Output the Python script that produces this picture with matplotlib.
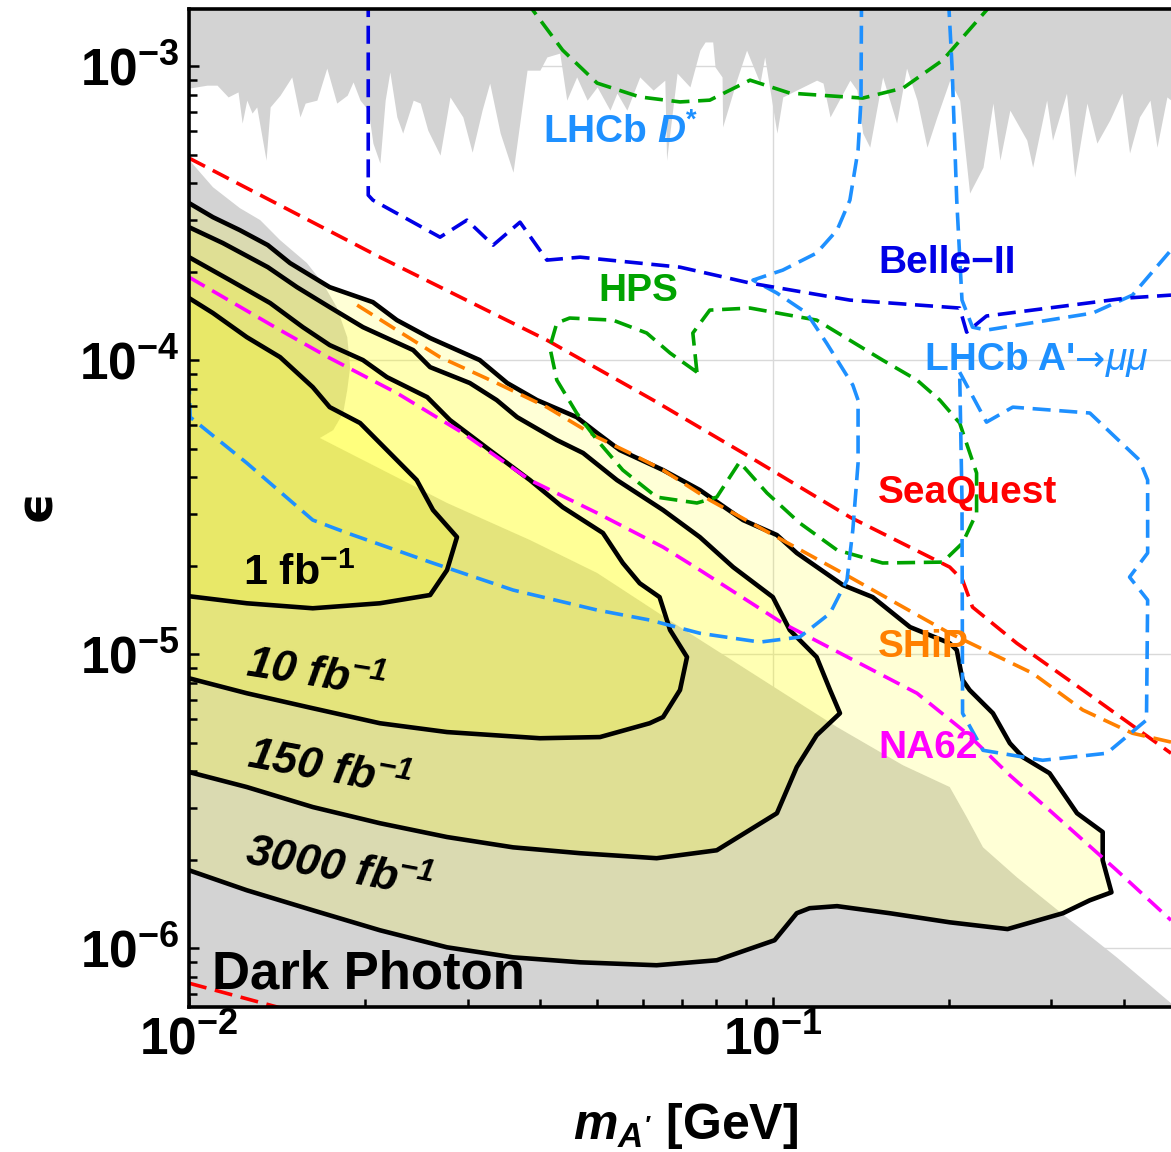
import numpy as np
import matplotlib
matplotlib.use("Agg")
import matplotlib.pyplot as plt
from matplotlib.ticker import FixedLocator, FixedFormatter, LogLocator, NullFormatter

plt.rcParams['font.family'] = ['Liberation Sans', 'DejaVu Sans']
plt.rcParams['font.weight'] = 'bold'
plt.rcParams['mathtext.fontset'] = 'custom'
plt.rcParams['mathtext.rm'] = 'Liberation Sans:bold'
plt.rcParams['mathtext.it'] = 'Liberation Sans:italic'
plt.rcParams['mathtext.bf'] = 'Liberation Sans:bold:italic'
plt.rcParams['mathtext.sf'] = 'Liberation Sans:bold'
plt.rcParams['mathtext.fallback'] = 'stixsans'

# ---------------- data (log10 of m_A' [GeV], log10 of epsilon) ----------------
# existing limits from above (jagged grey band at the top)
gray_top_lm = [-2.000, -1.969, -1.952, -1.933, -1.916, -1.909, -1.901, -1.892, -1.884, -1.868,
               -1.861, -1.844, -1.824, -1.810, -1.801, -1.781, -1.764, -1.747, -1.729, -1.719,
               -1.707, -1.693, -1.685, -1.673, -1.664, -1.656, -1.644, -1.634, -1.616, -1.604,
               -1.591, -1.570, -1.553, -1.531, -1.515, -1.498, -1.485, -1.467, -1.445, -1.421,
               -1.399, -1.387, -1.365, -1.353, -1.336, -1.318, -1.301, -1.279, -1.267, -1.250,
               -1.228, -1.205, -1.185, -1.182, -1.164, -1.142, -1.125, -1.116, -1.103, -1.099,
               -1.087, -1.086, -1.062, -1.045, -1.022, -1.014, -0.993, -0.983, -0.925, -0.914,
               -0.902, -0.868, -0.856, -0.846, -0.834, -0.812, -0.788, -0.771, -0.753, -0.736,
               -0.719, -0.697, -0.680, -0.663, -0.640, -0.623, -0.611, -0.594, -0.565, -0.555,
               -0.531, -0.521, -0.497, -0.483, -0.462, -0.445, -0.423, -0.402, -0.389, -0.372,
               -0.354, -0.342, -0.325, -0.318]
gray_top_le = [-3.075, -3.065, -3.065, -3.105, -3.088, -3.194, -3.116, -3.160, -3.139, -3.320,
               -3.139, -3.099, -3.037, -3.173, -3.126, -3.116, -3.007, -3.126, -3.099, -3.054,
               -3.116, -3.150, -3.262, -3.330, -3.116, -3.020, -3.173, -3.228, -3.116, -3.126,
               -3.218, -3.303, -3.105, -3.173, -3.293, -3.150, -3.058, -3.228, -3.361, -3.014,
               -3.014, -2.969, -2.956, -3.116, -3.037, -3.116, -3.071, -3.150, -3.092, -3.150,
               -3.037, -3.082, -3.048, -3.320, -3.024, -3.071, -2.946, -2.918, -2.918, -3.003,
               -3.037, -3.207, -3.048, -2.946, -3.058, -2.969, -3.228, -3.105, -3.048, -3.058,
               -3.173, -3.048, -3.082, -3.228, -3.276, -3.037, -3.194, -3.007, -3.116, -3.276,
               -3.173, -3.048, -3.116, -3.432, -3.344, -3.126, -3.320, -3.150, -3.252, -3.344,
               -3.116, -3.252, -3.092, -3.378, -3.126, -3.262, -3.184, -3.092, -3.296, -3.173,
               -3.116, -3.276, -3.105, -3.116]

# existing limits from below (grey region, "Dark Photon")
gray_bot_lm = [-2.000, -1.995, -1.959, -1.913, -1.878, -1.844, -1.798, -1.771, -1.747, -1.729,
               -1.724, -1.729, -1.736, -1.753, -1.776, -1.558, -1.416, -1.301, -1.159, -0.971,
               -0.890, -0.777, -0.697, -0.668, -0.640, -0.582, -0.497, -0.411, -0.318]
gray_bot_le = [-3.313, -3.330, -3.412, -3.483, -3.524, -3.592, -3.670, -3.738, -3.820, -3.922,
               -4.024, -4.102, -4.180, -4.238, -4.265, -4.486, -4.612, -4.724, -4.908, -5.146,
               -5.248, -5.378, -5.452, -5.554, -5.657, -5.759, -5.895, -6.031, -6.187]

# projected sensitivity contours
c3000_lm = [-2.000, -1.959, -1.913, -1.865, -1.827, -1.759, -1.685, -1.644, -1.587, -1.502,
            -1.455, -1.404, -1.336, -1.301, -1.262, -1.188, -1.125, -1.051, -0.993, -0.959,
            -0.880, -0.829, -0.765, -0.697, -0.685, -0.675, -0.663, -0.623, -0.594, -0.572,
            -0.526, -0.479, -0.435, -0.435, -0.420, -0.457, -0.503, -0.598, -0.697, -0.800,
            -0.890, -0.937, -0.959, -0.997, -1.096, -1.199, -1.330, -1.445, -1.558, -1.673,
            -1.788, -1.901, -2.000]
c3000_le = [-3.466, -3.514, -3.558, -3.609, -3.670, -3.752, -3.803, -3.864, -3.925, -4.000,
            -4.078, -4.136, -4.194, -4.248, -4.306, -4.374, -4.442, -4.544, -4.595, -4.656,
            -4.765, -4.806, -4.908, -4.963, -4.986, -5.088, -5.122, -5.201, -5.303, -5.350,
            -5.405, -5.541, -5.605, -5.701, -5.810, -5.837, -5.881, -5.935, -5.912, -5.881,
            -5.857, -5.864, -5.881, -5.973, -6.041, -6.058, -6.048, -6.031, -5.997, -5.939,
            -5.871, -5.803, -5.735]

c150_lm = [-2.000, -1.942, -1.865, -1.815, -1.759, -1.702, -1.616, -1.587, -1.519, -1.473,
           -1.438, -1.370, -1.325, -1.267, -1.188, -1.125, -1.068, -1.000, -0.971, -0.925,
           -0.902, -0.885, -0.925, -0.959, -0.993, -1.096, -1.199, -1.330, -1.445, -1.558,
           -1.673, -1.788, -1.901, -2.000]
c150_le = [-3.548, -3.602, -3.684, -3.752, -3.820, -3.888, -3.966, -4.024, -4.078, -4.136,
           -4.194, -4.272, -4.316, -4.408, -4.510, -4.602, -4.704, -4.806, -4.918, -5.010,
           -5.122, -5.201, -5.276, -5.384, -5.541, -5.667, -5.694, -5.677, -5.657, -5.622,
           -5.575, -5.520, -5.452, -5.401]

c10_lm = [-2.000, -1.930, -1.861, -1.805, -1.759, -1.702, -1.661, -1.592, -1.553, -1.485,
          -1.416, -1.360, -1.291, -1.257, -1.228, -1.194, -1.176, -1.147, -1.159, -1.188,
          -1.211, -1.296, -1.399, -1.558, -1.673, -1.788, -1.901, -2.000]
c10_le = [-3.650, -3.728, -3.806, -3.888, -3.949, -4.000, -4.058, -4.126, -4.204, -4.306,
          -4.408, -4.500, -4.588, -4.690, -4.759, -4.806, -4.918, -5.010, -5.122, -5.214,
          -5.235, -5.282, -5.286, -5.265, -5.235, -5.184, -5.133, -5.082]

c1_lm = [-2.000, -1.959, -1.901, -1.844, -1.788, -1.759, -1.707, -1.656, -1.610, -1.582,
         -1.541, -1.558, -1.587, -1.673, -1.788, -1.901, -2.000]
c1_le = [-3.789, -3.840, -3.922, -3.990, -4.092, -4.160, -4.214, -4.316, -4.408, -4.510,
         -4.602, -4.714, -4.799, -4.827, -4.844, -4.827, -4.803]

# dashed projections
seaquest_lm = [-2.000, -1.673, -1.387, -1.205, -1.039, -0.868, -0.697, -0.675, -0.658, -0.582,
               -0.469, -0.318]
seaquest_le = [-3.313, -3.650, -3.932, -4.136, -4.330, -4.534, -4.704, -4.748, -4.840, -4.963,
               -5.122, -5.337]
seaquest_low_lm = [-2.000, -1.810]
seaquest_low_le = [-6.119, -6.221]

ship_lm = [-1.712, -1.644, -1.570, -1.473, -1.387, -1.301, -1.245, -1.188, -1.108, -0.993,
           -0.868, -0.697, -0.555, -0.469, -0.384, -0.318]
ship_le = [-3.813, -3.898, -3.990, -4.078, -4.160, -4.262, -4.316, -4.374, -4.476, -4.602,
           -4.738, -4.929, -5.065, -5.190, -5.269, -5.299]

na62_lm = [-2.000, -1.844, -1.759, -1.644, -1.531, -1.416, -1.301, -1.188, -1.125, -0.983,
           -0.753, -0.668, -0.594, -0.526, -0.411, -0.318]
na62_le = [-3.718, -3.898, -3.993, -4.112, -4.248, -4.408, -4.520, -4.636, -4.714, -4.895,
           -5.133, -5.269, -5.412, -5.531, -5.735, -5.905]

belle_lm = [-1.693, -1.693, -1.685, -1.570, -1.524, -1.479, -1.433, -1.387, -1.330, -1.159,
            -1.039, -0.868, -0.680, -0.668, -0.634, -0.394, -0.318]
belle_le = [-2.741, -3.439, -3.456, -3.582, -3.524, -3.609, -3.531, -3.660, -3.650, -3.684,
            -3.738, -3.796, -3.823, -3.905, -3.850, -3.789, -3.779]

lhcb_dstar_lm = [-0.848, -0.849, -0.854, -0.868, -0.890, -0.925, -0.983, -1.034, -0.993, -0.942,
                 -0.908, -0.863, -0.854, -0.854, -0.863, -0.873, -0.902, -0.954, -1.022, -1.125,
                 -1.211, -1.301, -1.445, -1.587, -1.729, -1.788, -1.901, -1.998, -2.000]
lhcb_dstar_le = [-2.741, -3.116, -3.286, -3.456, -3.558, -3.636, -3.694, -3.728, -3.772, -3.840,
                 -3.942, -4.085, -4.136, -4.350, -4.578, -4.748, -4.861, -4.942, -4.959, -4.929,
                 -4.884, -4.850, -4.782, -4.687, -4.588, -4.544, -4.350, -4.194, -4.068]

lhcb_mumu_a_lm = [-0.700, -0.693, -0.685, -0.676, -0.658, -0.634, -0.452, -0.384, -0.318]
lhcb_mumu_a_le = [-2.741, -3.003, -3.456, -3.796, -3.888, -3.898, -3.840, -3.779, -3.626]

lhcb_mumu_b_lm = [-0.680, -0.634, -0.589, -0.457, -0.372, -0.358, -0.358, -0.389, -0.358, -0.360,
                  -0.428, -0.538, -0.640, -0.675, -0.676, -0.680]
lhcb_mumu_b_le = [-4.041, -4.211, -4.160, -4.180, -4.340, -4.408, -4.656, -4.738, -4.816, -5.224,
                  -5.337, -5.361, -5.327, -5.201, -4.476, -4.041]

hps_up_lm = [-1.425, -1.411, -1.360, -1.301, -1.228, -1.159, -1.108, -1.039, -0.971, -0.846,
             -0.777, -0.709, -0.634, -0.611]
hps_up_le = [-2.759, -2.810, -2.946, -3.058, -3.105, -3.122, -3.116, -3.048, -3.092, -3.109,
             -3.075, -2.980, -2.810, -2.759]

hps_low_lm = [-1.130, -1.137, -1.108, -1.039, -0.925, -0.812, -0.753, -0.714, -0.680, -0.651,
              -0.651, -0.675, -0.709, -0.812, -0.890, -0.954, -1.010, -1.057, -1.096, -1.130,
              -1.199, -1.257, -1.301, -1.336, -1.370, -1.382, -1.370, -1.348, -1.274, -1.216,
              -1.176, -1.130]
hps_low_le = [-4.041, -3.908, -3.830, -3.823, -3.864, -4.000, -4.068, -4.136, -4.214, -4.384,
              -4.520, -4.622, -4.687, -4.690, -4.646, -4.554, -4.452, -4.347, -4.466, -4.486,
              -4.466, -4.374, -4.272, -4.180, -4.068, -3.956, -3.874, -3.857, -3.864, -3.908,
              -3.976, -4.041]

x_ticks = [1e-2, 1e-1]
x_tick_labels = [r"$\mathrm{10^{-2}}$", r"$\mathrm{10^{-1}}$"]
y_ticks = [1e-6, 1e-5, 1e-4, 1e-3]
y_tick_labels = [r"$\mathrm{10^{-6}}$", r"$\mathrm{10^{-5}}$", r"$\mathrm{10^{-4}}$", r"$\mathrm{10^{-3}}$"]

lumi_labels = ["1 fb", "10 fb", "150 fb", "3000 fb"]

# ---------------- figure ----------------
W, H = 1171, 1152
fig = plt.figure(figsize=(W / 100, H / 100), dpi=100)
ax = fig.add_axes([189 / W, (H - 1007) / H, (W - 189) / W, (1007 - 9) / H])
ax.set_xscale('log')
ax.set_yscale('log')
XMIN, XMAX = 1e-2, 10 ** -0.318
YMIN, YMAX = 10 ** -6.2, 10 ** -2.806

GRAY = '#D3D3D3'
LBLUE = '#1E90FF'
DBLUE = '#0000E6'
GREEN = '#00A300'
RED = '#FF0000'
ORANGE = '#FF8000'
MAGENTA = '#FF00FF'
GRID = '#D9D9D9'


def p(lm, le):
    return 10 ** np.asarray(lm, float), 10 ** np.asarray(le, float)


# light grid under everything
for xv in x_ticks[1:]:
    ax.axvline(xv, color=GRID, lw=1.0, zorder=0.5)
for yv in y_ticks:
    ax.axhline(yv, color=GRID, lw=1.0, zorder=0.5)

# grey regions
x, y = p(gray_top_lm, gray_top_le)
ax.fill_between(x, y, 1e-2, color=GRAY, lw=0, zorder=1)
x, y = p(gray_bot_lm, gray_bot_le)
ax.fill(np.r_[x, XMAX, XMIN], np.r_[y, 1e-7, 1e-7], color=GRAY, lw=0, zorder=1)

# sensitivity contours
for lm, le in [(c3000_lm, c3000_le), (c150_lm, c150_le), (c10_lm, c10_le), (c1_lm, c1_le)]:
    x, y = p(lm, le)
    ax.fill(x, y, color=(1, 1, 0), alpha=0.16, lw=0, zorder=2)
    ax.plot(x, y, color='black', lw=3.3, zorder=3, solid_joinstyle='round')

dash = (0, (5.0, 2.4))
lines = [
    (seaquest_lm, seaquest_le, RED),
    (seaquest_low_lm, seaquest_low_le, RED),
    (ship_lm, ship_le, ORANGE),
    (na62_lm, na62_le, MAGENTA),
    (hps_up_lm, hps_up_le, GREEN),
    (hps_low_lm, hps_low_le, GREEN),
    (lhcb_dstar_lm, lhcb_dstar_le, LBLUE),
    (lhcb_mumu_a_lm, lhcb_mumu_a_le, LBLUE),
    (lhcb_mumu_b_lm, lhcb_mumu_b_le, LBLUE),
    (belle_lm, belle_le, DBLUE),
]
for lm, le, c in lines:
    x, y = p(lm, le)
    ax.plot(x, y, color=c, lw=2.6, ls=dash, zorder=4)

ax.set_xlim(XMIN, XMAX)
ax.set_ylim(YMIN, YMAX)

# axes styling (ticks drawn on top of the filled regions)
ax.set_axisbelow(False)
ax.xaxis.set_zorder(5)
ax.yaxis.set_zorder(5)
for s in ['left', 'bottom', 'top']:
    ax.spines[s].set_linewidth(2.6)
    ax.spines[s].set_zorder(6)
ax.spines['right'].set_visible(False)

ax.xaxis.set_major_locator(FixedLocator(x_ticks))
ax.xaxis.set_major_formatter(FixedFormatter(x_tick_labels))
ax.yaxis.set_major_locator(FixedLocator(y_ticks))
ax.yaxis.set_major_formatter(FixedFormatter(y_tick_labels))
ax.xaxis.set_minor_locator(LogLocator(base=10, subs=np.arange(2, 10)))
ax.yaxis.set_minor_locator(LogLocator(base=10, subs=np.arange(2, 10)))
ax.xaxis.set_minor_formatter(NullFormatter())
ax.yaxis.set_minor_formatter(NullFormatter())
ax.tick_params(which='both', direction='in', width=1.8, top=False, right=False)
ax.tick_params(which='major', length=7)
ax.tick_params(which='minor', length=6)
ax.tick_params(axis='y', which='major', labelsize=37, pad=7)
ax.tick_params(axis='x', which='major', labelsize=37, pad=6)

# axis labels
fig.text(686 / W, 1 - 1126 / H, r"$\mathbf{m_{A'}}$ [GeV]", ha='center', va='center',
         fontsize=36, fontweight='bold')
fig.text(36 / W, 1 - 505 / H, "\u03f5", ha='center', va='center', rotation=90,
         fontsize=36, fontweight='bold', family=['DejaVu Sans'])

tk = dict(transform=ax.transAxes, fontweight='bold', zorder=7)
ax.text(0.3605, 0.877, r"LHCb $\mathbf{D}^{*}$", color=LBLUE, fontsize=28, ha='left', va='center', **tk)
ax.text(0.7016, 0.7455, "Belle\u2212II", color=DBLUE, fontsize=28, ha='left', va='center', **tk)
ax.text(0.4165, 0.7174, "HPS", color=GREEN, fontsize=28, ha='left', va='center', **tk)

# "LHCb A'→μμ": bold name, thin arrow, italic regular μμ, chained on one baseline
t_a = ax.text(0.7495, 0.6483, "LHCb A'", color=LBLUE, fontsize=28, ha='left', va='center', **tk)
t_b = ax.annotate("\u2192", xy=(1, 0), xycoords=t_a, ha='left', va='bottom', color=LBLUE,
                  fontsize=26, fontweight='normal', family=['DejaVu Sans'], zorder=7)
t_c = ax.annotate("\u03bc\u03bc", xy=(1, 0), xycoords=t_b, ha='left', va='bottom', color=LBLUE,
                  fontsize=28, fontweight='normal', style='italic', zorder=7)

ax.text(0.7016, 0.515, "SeaQuest", color=RED, fontsize=28, ha='left', va='center', **tk)
ax.text(0.7016, 0.3607, "SHiP", color=ORANGE, fontsize=28, ha='left', va='center', **tk)
ax.text(0.7016, 0.2595, "NA62", color=MAGENTA, fontsize=28, ha='left', va='center', **tk)
ax.text(0.0234, 0.0321, "Dark Photon", color='black', fontsize=38, ha='left', va='center', **tk)

ax.text(0.055, 0.4228, lumi_labels[0] + r"$^{-1}$", color='black', fontsize=31,
        ha='left', va='baseline', **tk)
for lab, fx, fy, rot in [(lumi_labels[1], 0.1290, 0.3327, -9),
                         (lumi_labels[2], 0.1420, 0.2375, -10.5),
                         (lumi_labels[3], 0.1530, 0.1373, -10.5)]:
    ax.text(fx, fy, lab + r"$^{\mathbf{-1}}$", color='black', fontsize=32, style='italic',
            ha='center', va='center', rotation=rot, rotation_mode='anchor', **tk)

fig.savefig("out.png", dpi=100)
